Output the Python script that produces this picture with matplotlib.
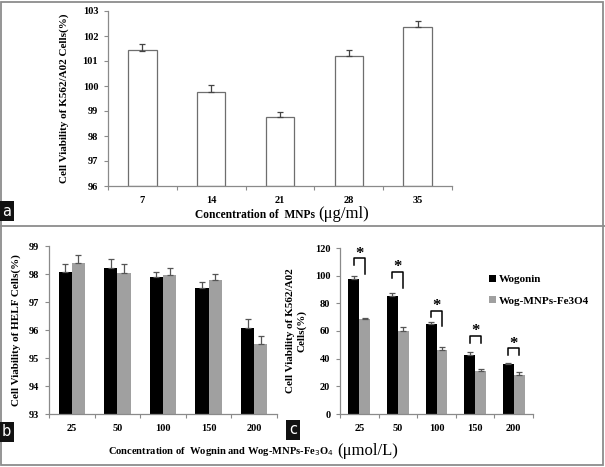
import matplotlib.pyplot as plt
import numpy as np
from matplotlib.lines import Line2D
from matplotlib.patches import Rectangle

# panel a
mnp_conc = ["7", "14", "21", "28", "35"]
mnp_viab = [101.42, 99.75, 98.75, 101.22, 102.38]
mnp_err = [0.26, 0.30, 0.20, 0.23, 0.24]

# panel b / c shared categories
wog_conc = ["25", "50", "100", "150", "200"]

helf_wog = [98.08, 98.20, 97.88, 97.49, 96.08]
helf_wog_err = [0.28, 0.32, 0.20, 0.22, 0.30]
helf_mnp = [98.38, 98.02, 97.96, 97.79, 95.49]
helf_mnp_err = [0.29, 0.32, 0.24, 0.22, 0.29]

k562_wog = [97.7, 85.6, 64.8, 42.6, 35.8]
k562_wog_err = [2.2, 2.2, 1.7, 1.9, 1.2]
k562_mnp = [68.4, 60.0, 46.2, 31.0, 28.5]
k562_mnp_err = [1.2, 2.6, 2.4, 1.2, 2.0]

# significance brackets: (top, left leg end, right leg end, star y)
brackets = [
    (112.7, 107.9, 101.1, 116.0),
    (103.0, 98.2, 91.4, 106.3),
    (74.5, 69.9, 63.4, 77.8),
    (56.6, 51.5, 51.5, 59.9),
    (47.6, 42.6, 42.6, 50.9),
]

W, H = 605, 467
SERIF = "Liberation Serif"
AXIS_GRAY = "#8a8a8a"
BAR_GRAY = "#a0a0a0"


def px_axes(fig, left, right, top, bottom):
    return fig.add_axes([left / W, (H - bottom) / H, (right - left) / W, (bottom - top) / H])


def style_axes(ax, n, yticks):
    for side in ("top", "right"):
        ax.spines[side].set_visible(False)
    for side in ("left", "bottom"):
        ax.spines[side].set_color(AXIS_GRAY)
        ax.spines[side].set_linewidth(0.9)
    ax.set_xlim(-0.5, n - 0.5)
    ax.set_xticks(np.arange(n + 1) - 0.5)
    ax.set_xticklabels([])
    ax.tick_params(axis="x", which="major", length=3, color=AXIS_GRAY, direction="out")
    ax.tick_params(axis="y", length=3, color=AXIS_GRAY, direction="out", pad=4)
    ax.set_yticks(yticks)
    for lab in ax.get_yticklabels():
        lab.set_fontfamily(SERIF)
        lab.set_fontweight("bold")
        lab.set_fontsize(7.5)


def cat_labels(ax, labels):
    ax.set_xticks(np.arange(len(labels)), minor=True)
    ax.set_xticklabels(labels, minor=True, fontfamily=SERIF, fontweight="bold", fontsize=7.5)
    ax.tick_params(axis="x", which="minor", length=0, pad=7)


def panel_tag(fig, x, y, letter):
    fig.text(x / W, (H - y) / H, letter, color="white", fontsize=10.5, family="DejaVu Sans",
             ha="left", va="center",
             bbox=dict(boxstyle="square,pad=0.2", facecolor="#111111", edgecolor="none"))


def label_with_unit(fig, x, y, bold_text, unit, size):
    t = fig.text(x / W, (H - y) / H, bold_text, family=SERIF, weight="bold",
                 fontsize=size, ha="left", va="center")
    bb = t.get_window_extent(renderer=fig.canvas.get_renderer())
    fig.text((bb.x1 + 3) / fig.bbox.width, (H - y + 1) / H, unit, family=SERIF,
             fontsize=12, ha="left", va="center")


fig = plt.figure(figsize=(W / 100, H / 100), dpi=100)

# frame and divider
fig.patches.append(Rectangle((1 / W, 2 / H), (W - 3) / W, (H - 4) / H, transform=fig.transFigure,
                             fill=False, edgecolor="#8c8c8c", linewidth=1.3))
fig.lines.append(Line2D([0, 1], [(H - 226) / H] * 2, transform=fig.transFigure,
                        color="#8c8c8c", linewidth=1.3))

# ---- panel a ----
ax = px_axes(fig, 108, 452, 11, 186)
x = np.arange(len(mnp_conc))
ax.bar(x, np.array(mnp_viab) - 96, bottom=96, width=0.41, color="white",
       edgecolor="#6e6e6e", linewidth=0.9)
ax.errorbar(x, mnp_viab, yerr=[np.zeros(5), mnp_err], fmt="none", ecolor="#444444",
            elinewidth=0.9, capsize=2.5, capthick=0.9)
ax.set_ylim(96, 103)
style_axes(ax, 5, np.arange(96, 104))
cat_labels(ax, mnp_conc)
ax.set_ylabel("Cell Viability of K562/A02 Cells(%)", fontfamily=SERIF, fontweight="bold",
              fontsize=8, labelpad=10)
label_with_unit(fig, 195, 215, "Concentration of  MNPs", "(μg/ml)", 8.3)
panel_tag(fig, 2, 211, "a")

# ---- panel b ----
ax = px_axes(fig, 49, 277, 246, 414)
x = np.arange(len(wog_conc))
bw = 0.29
ax.bar(x - bw / 2, np.array(helf_wog) - 93, bottom=93, width=bw, color="black")
ax.bar(x + bw / 2, np.array(helf_mnp) - 93, bottom=93, width=bw, color=BAR_GRAY)
ax.errorbar(x - bw / 2, helf_wog, yerr=[np.zeros(5), helf_wog_err], fmt="none",
            ecolor="#555555", elinewidth=0.9, capsize=2, capthick=0.9)
ax.errorbar(x + bw / 2, helf_mnp, yerr=[np.zeros(5), helf_mnp_err], fmt="none",
            ecolor="#555555", elinewidth=0.9, capsize=2, capthick=0.9)
ax.set_ylim(93, 99)
style_axes(ax, 5, np.arange(93, 100))
cat_labels(ax, wog_conc)
ax.set_ylabel("Cell Viability of HELF Cells(%)", fontfamily=SERIF, fontweight="bold",
              fontsize=8, labelpad=6)
panel_tag(fig, 2, 432, "b")

# ---- panel c ----
ax = px_axes(fig, 340, 533, 248, 414)
bw = 0.28
ax.bar(x - bw / 2, k562_wog, width=bw, color="black", label="Wogonin")
ax.bar(x + bw / 2, k562_mnp, width=bw, color=BAR_GRAY, label="Wog-MNPs-Fe3O4")
ax.errorbar(x - bw / 2, k562_wog, yerr=[np.zeros(5), k562_wog_err], fmt="none",
            ecolor="#555555", elinewidth=0.9, capsize=2, capthick=0.9)
ax.errorbar(x + bw / 2, k562_mnp, yerr=[np.zeros(5), k562_mnp_err], fmt="none",
            ecolor="#555555", elinewidth=0.9, capsize=2, capthick=0.9)
for i, (top, left_end, right_end, star_y) in enumerate(brackets):
    xl, xr = i - bw / 2, i + bw / 2
    ax.plot([xl, xl, xr, xr], [left_end, top, top, right_end], color="black", lw=1.1,
            clip_on=False)
    ax.text(i, star_y, "*", ha="center", va="center", fontsize=12, family=SERIF,
            weight="bold", clip_on=False)
ax.set_ylim(0, 120)
style_axes(ax, 5, np.arange(0, 121, 20))
cat_labels(ax, wog_conc)
ax.set_ylabel("Cell Viability of K562/A02\nCells(%)", fontfamily=SERIF, fontweight="bold",
              fontsize=8, labelpad=6, linespacing=1.3)
ax.legend(loc="upper left", bbox_to_anchor=(0.72, 0.90), frameon=False,
          handlelength=0.6, handleheight=0.6, handletextpad=0.3, labelspacing=1.1,
          prop={"family": SERIF, "weight": "bold", "size": 8})
panel_tag(fig, 289, 430, "c")

label_with_unit(fig, 108, 452, "Concentration of  Wognin and Wog-MNPs-Fe$_3$O$_4$",
                "(μmol/L)", 7.6)

fig.savefig("out.png", dpi=100)
plt.close(fig)
